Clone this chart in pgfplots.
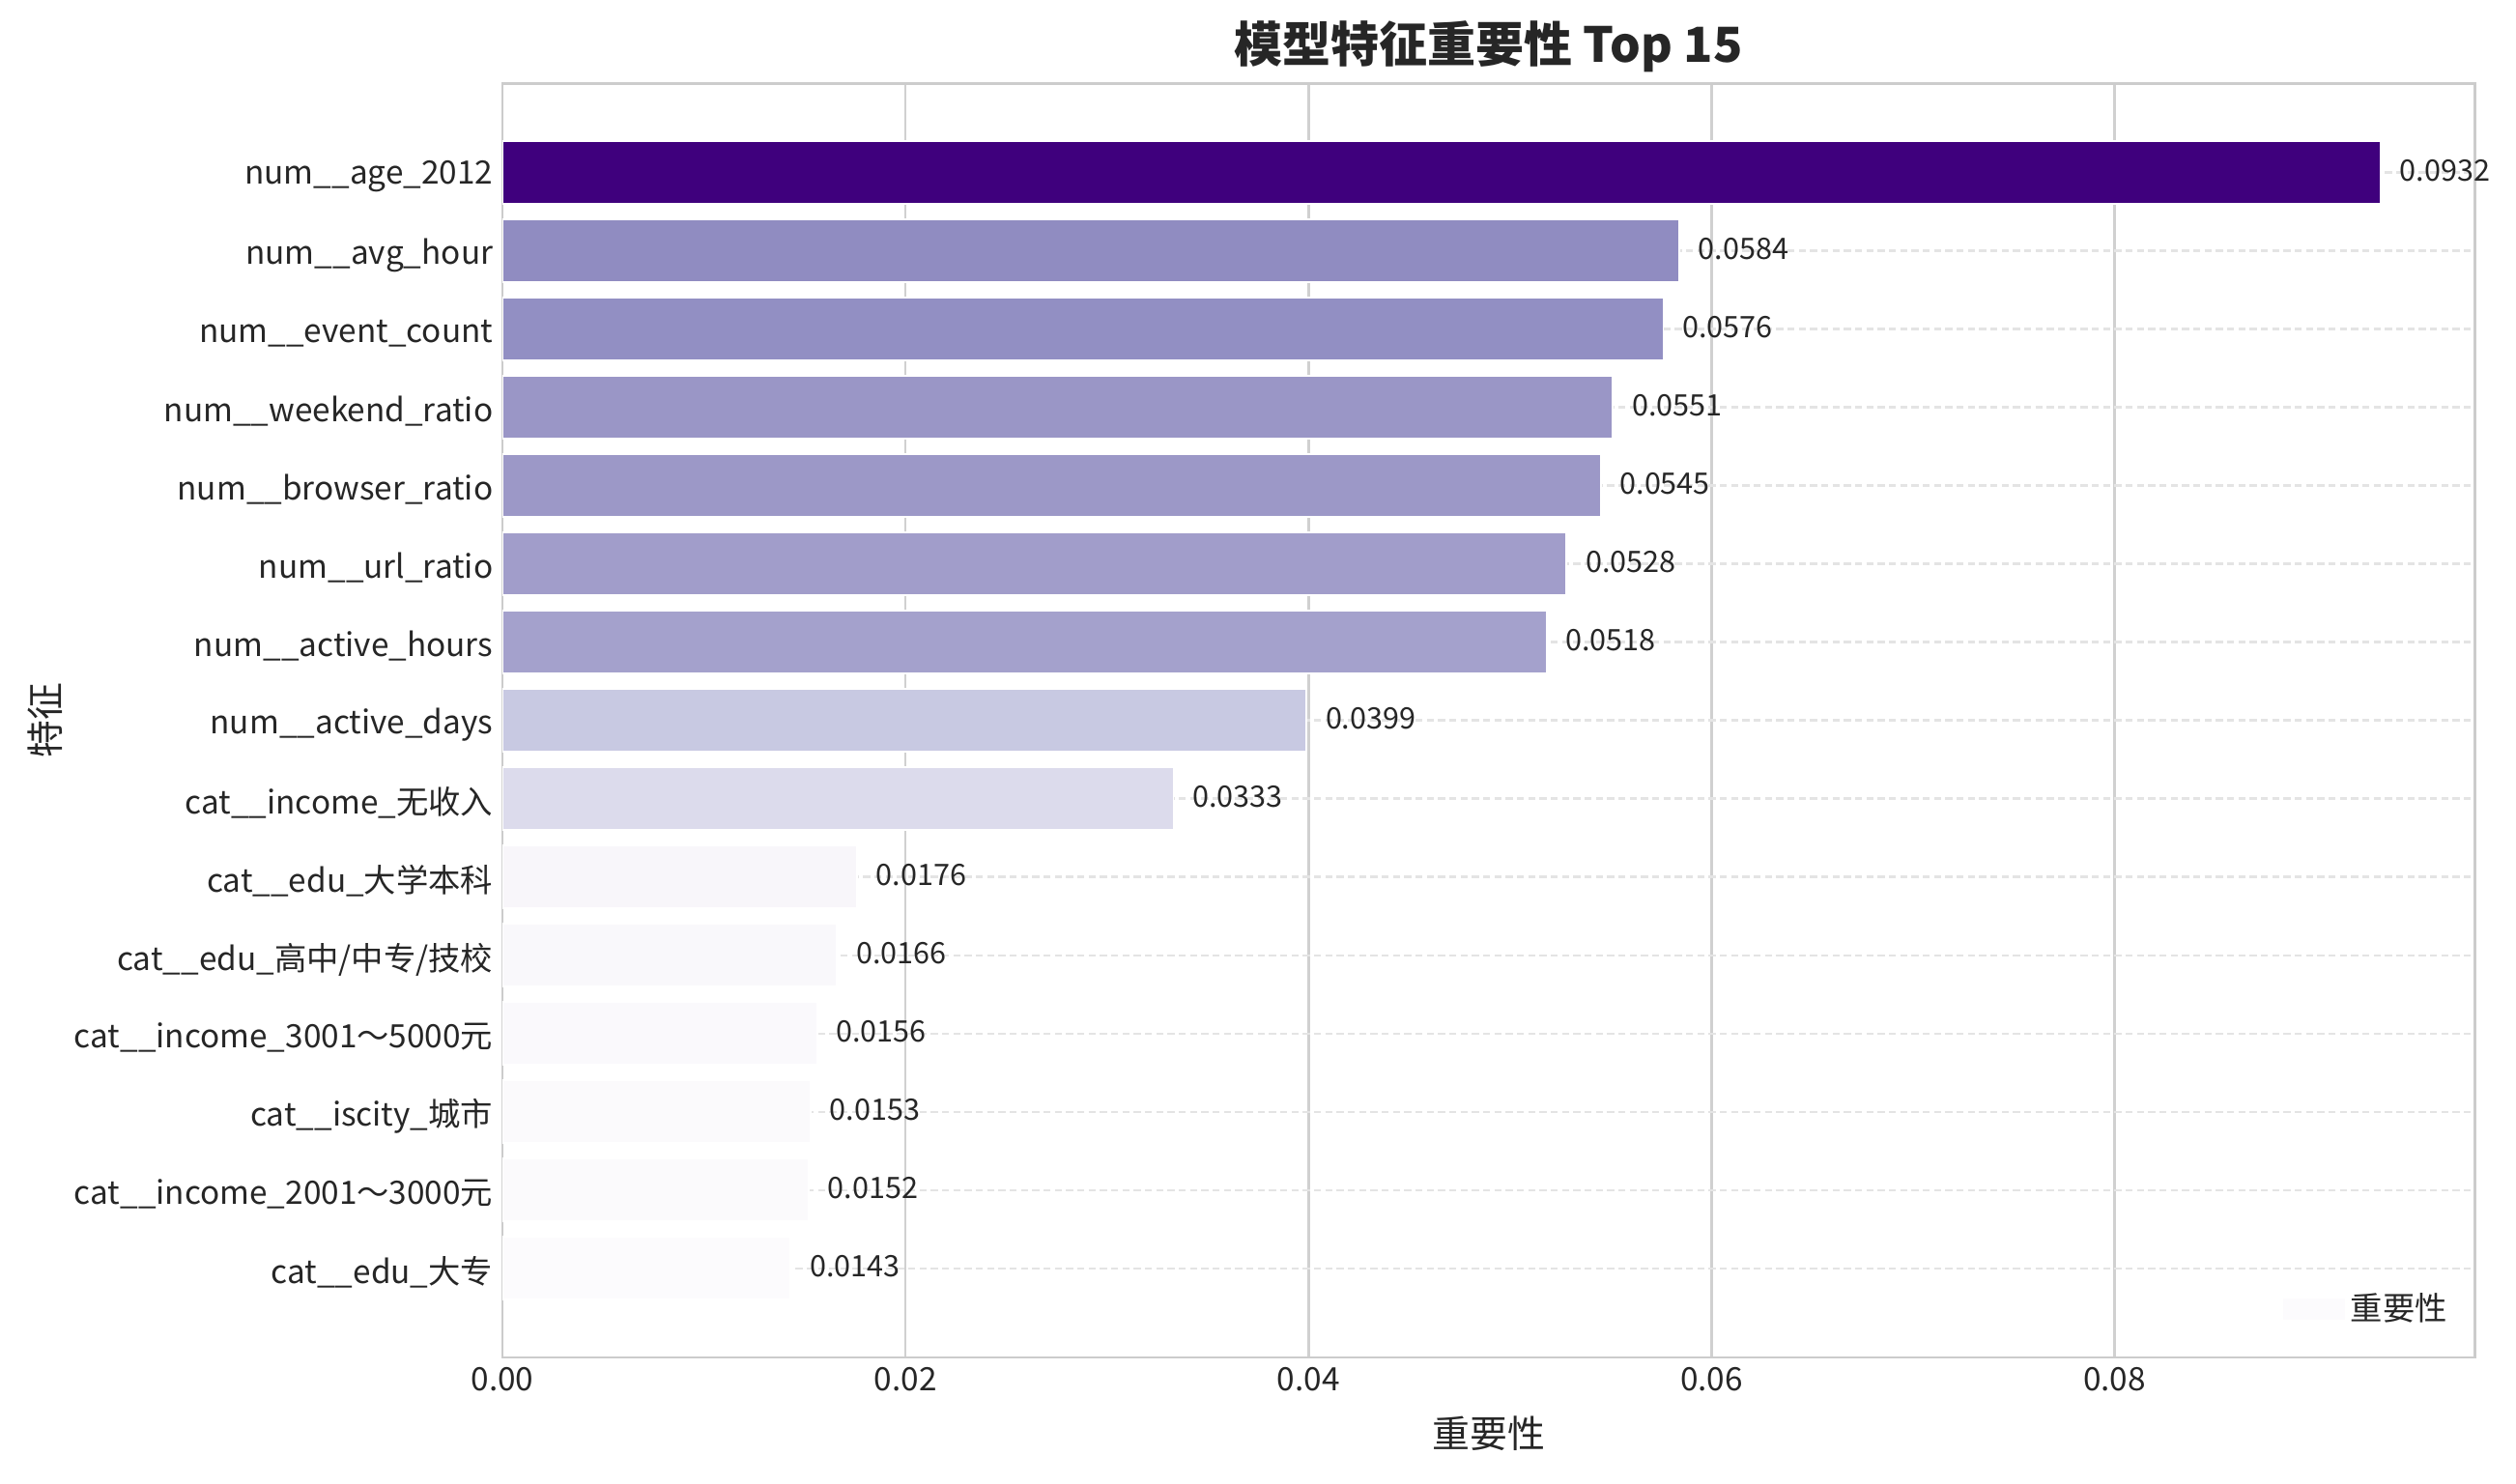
\documentclass[border=0pt]{standalone}
\usepackage{pgfplots}
\pgfplotsset{compat=1.18}
\usepackage{fontspec}
\setmainfont{Noto Sans CJK SC}
\definecolor{txt}{HTML}{262626}
\definecolor{gridv}{HTML}{D0D0D0}
\definecolor{gridh}{HTML}{E4E4E4}
\definecolor{frame}{HTML}{CCCCCC}
\definecolor{c0}{RGB}{63,0,125}
\definecolor{c1}{RGB}{144,140,193}
\definecolor{c2}{RGB}{146,143,195}
\definecolor{c3}{RGB}{154,150,198}
\definecolor{c4}{RGB}{156,152,199}
\definecolor{c5}{RGB}{161,157,202}
\definecolor{c6}{RGB}{164,161,204}
\definecolor{c7}{RGB}{200,201,226}
\definecolor{c8}{RGB}{220,219,236}
\definecolor{c9}{RGB}{248,246,250}
\definecolor{c10}{RGB}{249,248,251}
\definecolor{c11}{RGB}{250,249,252}
\definecolor{c12}{RGB}{251,250,252}
\definecolor{c13}{RGB}{251,250,252}
\definecolor{c14}{RGB}{252,251,253}
\pgfkeys{/pgf/number format/assume math mode=true}
\pgfplotsset{
  mybar/.style={xbar, bar width=0.8, bar shift=0pt, draw=white, line width=0.6pt, fill=#1, forget plot,
    nodes near coords={\pgfmathprintnumber[fixed,precision=4,zerofill]{\pgfplotspointmeta}},
    nodes near coords align={horizontal},
    every node near coord/.append style={anchor=west, xshift=3.5pt, yshift=0.6pt, text=txt, font=\fontsize{11}{13}\selectfont}},
}
\begin{document}
\begin{tikzpicture}
\useasboundingbox (0,0) rectangle (937.44pt,552.6pt);
\begin{axis}[
  at={(187.2pt,46.8pt)}, anchor=south west,
  scale only axis, width=734.8pt, height=474.8pt,
  xmin=0, xmax=0.09786,
  ymin=-1.14, ymax=15.14, y dir=reverse,
  xtick={0,0.02,0.04,0.06,0.08},
  xticklabel style={/pgf/number format/fixed, /pgf/number format/precision=2, /pgf/number format/zerofill},
  scaled x ticks=false,
  ytick={0,...,14},
  yticklabels={num\_\_age\_2012, num\_\_avg\_hour, num\_\_event\_count, num\_\_weekend\_ratio, num\_\_browser\_ratio, num\_\_url\_ratio, num\_\_active\_hours, num\_\_active\_days, cat\_\_income\_无收入, cat\_\_edu\_大学本科, cat\_\_edu\_高中/中专/技校, cat\_\_income\_3001～5000元, cat\_\_iscity\_城市, cat\_\_income\_2001～3000元, cat\_\_edu\_大专},
  yticklabel style={yshift=-1.6pt},
  tick style={draw=none},
  ticklabel style={font=\fontsize{12}{14}\selectfont, text=txt},
  axis line style={draw=frame, line width=1pt},
  grid=major,
  x grid style={draw=gridv, line width=0.9pt},
  y grid style={draw=gridh, line width=0.8pt, dash pattern=on 2.6pt off 1.6pt},
  every axis title shift=0pt,
  title={\textbf{模型特征重要性 Top 15}},
  title style={at={(axis description cs:0.5,1)}, anchor=center, yshift=13.5pt, font=\fontsize{18}{21}\selectfont, text=txt},
  xlabel={重要性},
  xlabel style={at={(axis description cs:0.5,0)}, anchor=center, yshift=-28.5pt, font=\fontsize{14}{16}\selectfont, text=txt},
  ylabel={特征},
  ylabel style={at={(axis description cs:0,0.5)}, anchor=center, yshift=170.5pt, font=\fontsize{14}{16}\selectfont, text=txt},
  legend style={at={(axis description cs:1,0)}, anchor=east, xshift=-8pt, yshift=18pt, draw=none, fill=none, font=\fontsize{12}{14}\selectfont, text=txt, inner sep=0pt},
  legend cell align=left,
]
\addplot[mybar=c0] coordinates {(0.0932,0)};
\addplot[mybar=c1] coordinates {(0.0584,1)};
\addplot[mybar=c2] coordinates {(0.0576,2)};
\addplot[mybar=c3] coordinates {(0.0551,3)};
\addplot[mybar=c4] coordinates {(0.0545,4)};
\addplot[mybar=c5] coordinates {(0.0528,5)};
\addplot[mybar=c6] coordinates {(0.0518,6)};
\addplot[mybar=c7] coordinates {(0.0399,7)};
\addplot[mybar=c8] coordinates {(0.0333,8)};
\addplot[mybar=c9] coordinates {(0.0176,9)};
\addplot[mybar=c10] coordinates {(0.0166,10)};
\addplot[mybar=c11] coordinates {(0.0156,11)};
\addplot[mybar=c12] coordinates {(0.0153,12)};
\addplot[mybar=c13] coordinates {(0.0152,13)};
\addplot[mybar=c14] coordinates {(0.0143,14)};
\addlegendimage{legend image code/.code={\fill[c14] (-12.5pt,-3.6pt) rectangle (10.2pt,3.6pt);}}
\addlegendentry{重要性}
\end{axis}
\end{tikzpicture}
\end{document}
